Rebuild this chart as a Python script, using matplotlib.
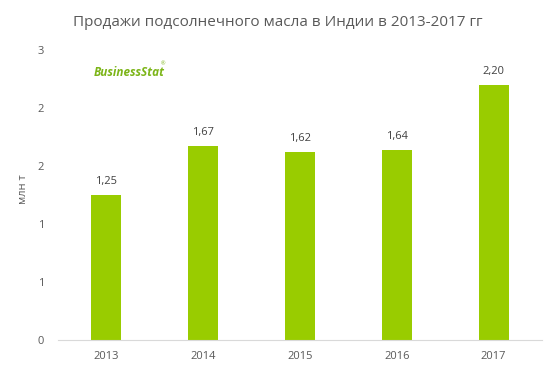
import matplotlib.pyplot as plt

plt.rcParams['font.family'] = ['Open Sans', 'DejaVu Sans']

years = ['2013', '2014', '2015', '2016', '2017']
sales = [1.25, 1.67, 1.62, 1.64, 2.20]
sales_labels = ['1,25', '1,67', '1,62', '1,64', '2,20']
y_ticks = [0, 0.5, 1.0, 1.5, 2.0, 2.5]
y_tick_labels = ['0', '1', '1', '2', '2', '3']

grey = '#595959'
green = '#99CC00'

fig = plt.figure(figsize=(5.56, 3.72), dpi=100)
ax = fig.add_axes([0.104, 0.086, 0.871, 0.78])

x = range(len(years))
ax.bar(x, sales, width=0.31, color=green)
for i, v in enumerate(sales):
    ax.text(i, v + 0.07, sales_labels[i], ha='center', va='bottom', fontsize=8, color='#404040')

ax.set_xlim(-0.5, len(years) - 0.5)
ax.set_ylim(0, 2.5)
ax.set_xticks(list(x))
ax.set_xticklabels(years)
ax.set_yticks(y_ticks)
ax.set_yticklabels(y_tick_labels)
ax.tick_params(axis='both', length=0, labelsize=8, colors=grey)
ax.tick_params(axis='x', pad=8)
ax.tick_params(axis='y', pad=10)

for s in ['top', 'right', 'left']:
    ax.spines[s].set_visible(False)
ax.spines['bottom'].set_color('#D9D9D9')

ax.set_ylabel('млн т', fontsize=8, color=grey)
ax.yaxis.set_label_coords(-0.06, 0.52)

fig.text(0.5, 0.94, 'Продажи подсолнечного масла в Индии в 2013-2017 гг',
         ha='center', va='center', fontsize=11, color=grey)

# logo
fig.text(0.168, 0.805, 'BusinessStat', fontsize=8.5, color='#7CB518',
         fontstyle='italic', fontweight='bold', ha='left', va='center')
fig.text(0.289, 0.828, '®', fontsize=4, color='#7CB518', ha='left', va='center')

fig.savefig('out.png', dpi=100)
